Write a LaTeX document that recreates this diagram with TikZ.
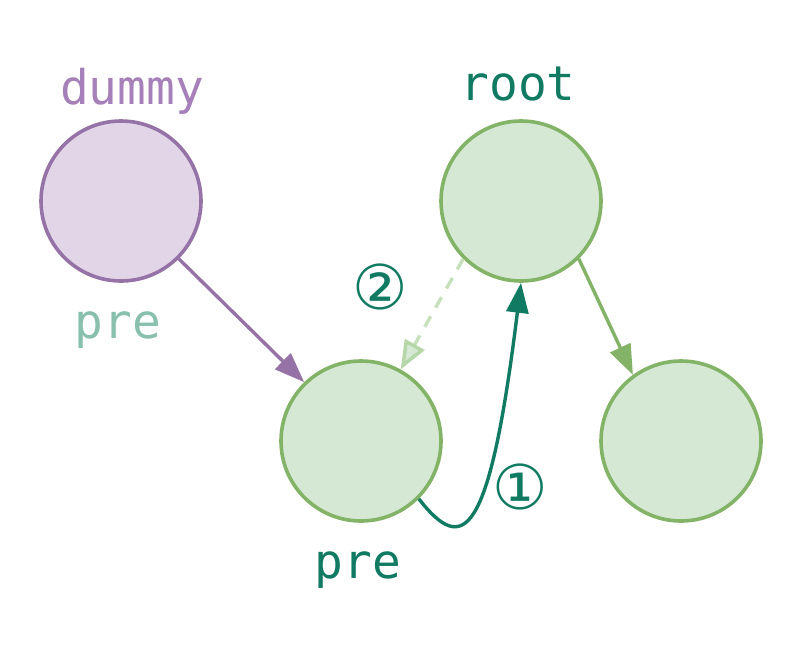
\documentclass[tikz,border=0pt]{standalone}
\usepackage{fontspec}
\usetikzlibrary{arrows.meta}
\newfontfamily\codefont{DejaVu Sans Mono}
\newfontfamily\symfont{DejaVu Sans}
\definecolor{purpleline}{HTML}{9673A6}
\definecolor{purplefill}{HTML}{E1D5E7}
\definecolor{greenline}{HTML}{82B366}
\definecolor{greenfill}{HTML}{D5E8D4}
\definecolor{darkteal}{HTML}{117A62}
\definecolor{lightteal}{HTML}{88BFAD}
\definecolor{dummytext}{HTML}{A680B8}
\definecolor{dashline}{HTML}{C5E0BA}
\definecolor{dashhead}{HTML}{B5D6A6}
\begin{document}
\begin{tikzpicture}[
    treenode/.style={circle, minimum size=4cm, inner sep=0pt, line width=0.09cm, draw=greenline, fill=greenfill},
    dummynode/.style={treenode, draw=purpleline, fill=purplefill},
    codelabel/.style={font=\codefont\fontsize{34}{40}\selectfont, anchor=base},
    steplabel/.style={font=\symfont\fontsize{44}{50}\selectfont, text=darkteal},
    link/.style={line width=0.085cm, -{Triangle[length=0.75cm, width=0.55cm]}}
  ]
            \useasboundingbox (0,0) rectangle (20.1,-16.1);

            \node[dummynode] (dummy) at (3.025,-5.025) {};
            \node[treenode] (root) at (13.025,-5.025) {};
            \node[treenode] (pre) at (9.025,-11.025) {};
            \node[treenode] (right) at (17.025,-11.025) {};

            \node[codelabel, text=dummytext] (dummylabel) at (3.3,-2.6) {dummy};
            \node[codelabel, text=darkteal] (rootlabel) at (12.95,-2.5) {root};
            \node[codelabel, text=lightteal] (oldprelabel) at (2.95,-8.45) {pre};
            \node[codelabel, text=darkteal] (prelabel) at (8.95,-14.45) {pre};

            \node[steplabel] (stepone) at (13,-12.175) {①};
            \node[steplabel] (steptwo) at (9.5,-7.175) {②};

            \draw[link, purpleline] (dummy.-45) -- (pre.134);
            \draw[link, greenline] (root.-45) -- (right.126);
            \draw[link, darkteal] (pre.-45) .. controls +(-52:1.8) and +(-97:6.5) .. (root.south);
            \draw[line width=0.085cm, dashline, dash pattern=on 0.3cm off 0.25cm,
                  -{Triangle[length=0.72cm, width=0.55cm, open, fill=greenfill, color=dashhead]}] (root.225) -- (pre.61);
        \end{tikzpicture}
\end{document}
